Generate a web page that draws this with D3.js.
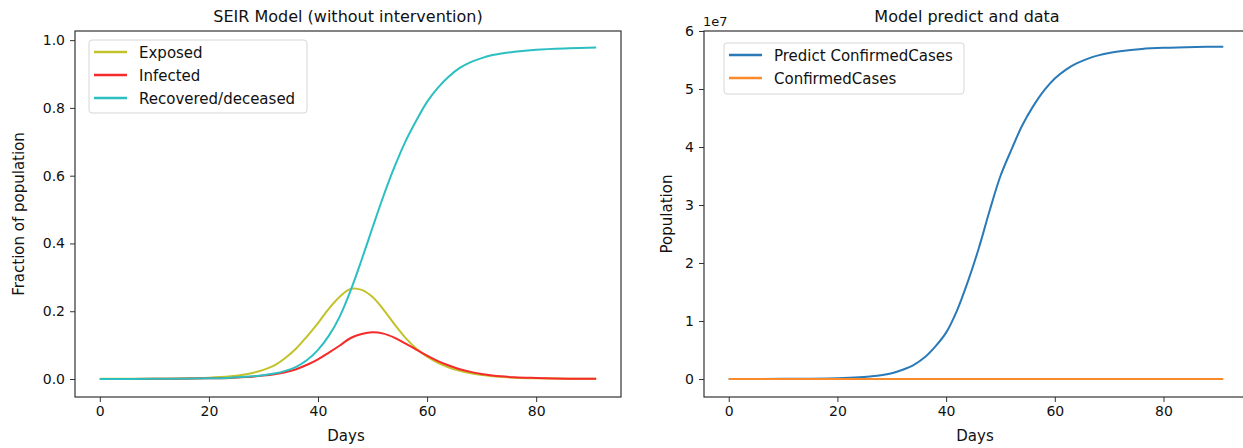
<!DOCTYPE html>
<meta charset="utf-8">
<script src="https://d3js.org/d3.v7.min.js"></script>
<style>
  body { margin: 0; background: #fff; }
  text { font-family: "DejaVu Sans", sans-serif; fill: #111; }
</style>
<div id="my_dataviz"></div>
<script>

// days
var days = [0, 10, 20, 24, 26, 28, 30, 32, 34, 36, 38, 40, 42, 44, 46, 48, 50, 52, 54, 56, 58, 60, 62, 64, 66, 68, 70, 72, 76, 80, 86, 91];

// SEIR fractions
var exposed   = [0.0005, 0.001, 0.004, 0.008, 0.012, 0.018, 0.027, 0.040, 0.062, 0.090, 0.126, 0.165, 0.208, 0.243, 0.266, 0.263, 0.242, 0.205, 0.162, 0.122, 0.090, 0.066, 0.048, 0.034, 0.024, 0.017, 0.012, 0.008, 0.004, 0.002, 0.001, 0.0005];
var infected  = [0.0002, 0.0005, 0.002, 0.003, 0.005, 0.007, 0.010, 0.014, 0.020, 0.029, 0.042, 0.058, 0.078, 0.099, 0.121, 0.133, 0.138, 0.134, 0.122, 0.105, 0.087, 0.069, 0.053, 0.040, 0.029, 0.021, 0.015, 0.010, 0.005, 0.003, 0.001, 0.0005];
var recovered = [0, 0.0005, 0.002, 0.004, 0.006, 0.008, 0.011, 0.016, 0.024, 0.036, 0.056, 0.086, 0.128, 0.185, 0.262, 0.352, 0.447, 0.540, 0.625, 0.700, 0.762, 0.818, 0.860, 0.893, 0.918, 0.935, 0.947, 0.956, 0.966, 0.972, 0.976, 0.978];

// model prediction vs data, in units of 1e7
var predictConfirmed = [0, 0.003, 0.015, 0.03, 0.045, 0.065, 0.10, 0.16, 0.24, 0.37, 0.56, 0.80, 1.18, 1.68, 2.25, 2.90, 3.50, 3.95, 4.37, 4.70, 4.97, 5.18, 5.33, 5.44, 5.52, 5.58, 5.62, 5.65, 5.69, 5.71, 5.725, 5.73];
var confirmedCases   = [0, 0, 0, 0, 0, 0, 0, 0, 0, 0, 0, 0, 0, 0, 0, 0, 0, 0, 0, 0, 0, 0, 0, 0, 0, 0, 0, 0, 0, 0, 0, 0];

var leftTicks = [0, 0.2, 0.4, 0.6, 0.8, 1.0];
var rightTicks = [0, 1, 2, 3, 4, 5, 6];
var dayTicks = [0, 20, 40, 60, 80];

var W = 1243, H = 448;
var svg = d3.select("#my_dataviz")
    .append("svg")
    .attr("width", W)
    .attr("height", H);

function panel(opt) {
    var x = d3.scaleLinear().domain([-4.55, 95.55]).range([opt.left, opt.right]);
    var y = d3.scaleLinear().domain(opt.ydomain).range([397, 31]);
    var g = svg.append("g");

    // lines
    var line = d3.line().curve(d3.curveCatmullRom.alpha(0.5));
    opt.series.forEach(function(s) {
        g.append("path")
            .attr("d", line(days.map(function(d, i) { return [x(d), y(s.values[i])]; })))
            .attr("fill", "none")
            .attr("stroke", s.color)
            .attr("stroke-width", 2);
    });

    // axes
    g.append("g")
        .attr("transform", "translate(0,397)")
        .call(d3.axisBottom(x).tickValues(dayTicks).tickSize(5).tickPadding(4).tickFormat(d3.format("d")));
    g.append("g")
        .attr("transform", "translate(" + opt.left + ",0)")
        .call(d3.axisLeft(y).tickValues(opt.yticks).tickSize(5).tickPadding(5).tickFormat(opt.yfmt));
    g.selectAll(".domain").remove();
    g.selectAll(".tick line").attr("stroke", "#333");
    g.selectAll(".tick text").attr("font-size", 14).attr("font-family", "DejaVu Sans").attr("fill", "#111");

    // frame
    g.append("rect")
        .attr("x", opt.left).attr("y", 31)
        .attr("width", opt.right - opt.left).attr("height", 366)
        .attr("fill", "none").attr("stroke", "#333").attr("stroke-width", 1.2);

    // title & labels
    g.append("text")
        .attr("x", opt.titleX).attr("y", 22)
        .attr("text-anchor", "middle").attr("font-size", 16)
        .text(opt.title);
    g.append("text")
        .attr("x", opt.dayX).attr("y", 441)
        .attr("text-anchor", "middle").attr("font-size", 15)
        .text("Days");
    g.append("text")
        .attr("transform", "translate(" + opt.ylabX + ",214)rotate(-90)")
        .attr("text-anchor", "middle").attr("font-size", 15)
        .text(opt.ylabel);

    // legend
    var lg = opt.legend;
    g.append("rect")
        .attr("x", lg.x).attr("y", lg.y).attr("width", lg.w).attr("height", lg.h)
        .attr("rx", 3).attr("fill", "#fff").attr("fill-opacity", 0.8)
        .attr("stroke", "#d6d6d6");
    opt.series.forEach(function(s, i) {
        var yy = lg.y + 12 + i * 23;
        g.append("line")
            .attr("x1", lg.x + 5).attr("x2", lg.x + 38)
            .attr("y1", yy).attr("y2", yy)
            .attr("stroke", s.color).attr("stroke-width", 2.5);
        g.append("text")
            .attr("x", lg.x + 50).attr("y", yy + 5.5)
            .attr("font-size", 15)
            .text(s.name);
    });
    return g;
}

panel({
    left: 75, right: 621,
    ydomain: [-0.0531, 1.027],
    yticks: leftTicks, yfmt: d3.format(".1f"),
    title: "SEIR Model (without intervention)", titleX: 348,
    dayX: 346, ylabX: 24, ylabel: "Fraction of population",
    legend: {x: 89, y: 40, w: 218, h: 73},
    series: [
        {name: "Exposed", values: exposed, color: "#c2c22a"},
        {name: "Infected", values: infected, color: "#f52a2a"},
        {name: "Recovered/deceased", values: recovered, color: "#2bbfc2"}
    ]
});

var right = panel({
    left: 704, right: 1248,
    ydomain: [-0.31, 6.0],
    yticks: rightTicks, yfmt: d3.format("d"),
    title: "Model predict and data", titleX: 967,
    dayX: 975, ylabX: 672, ylabel: "Population",
    legend: {x: 724, y: 43, w: 240, h: 51},
    series: [
        {name: "Predict ConfirmedCases", values: predictConfirmed, color: "#2a7ab8"},
        {name: "ConfirmedCases", values: confirmedCases, color: "#fb8a2c"}
    ]
});

right.append("text")
    .attr("x", 703).attr("y", 26)
    .attr("font-size", 13)
    .text("1e7");

</script>
